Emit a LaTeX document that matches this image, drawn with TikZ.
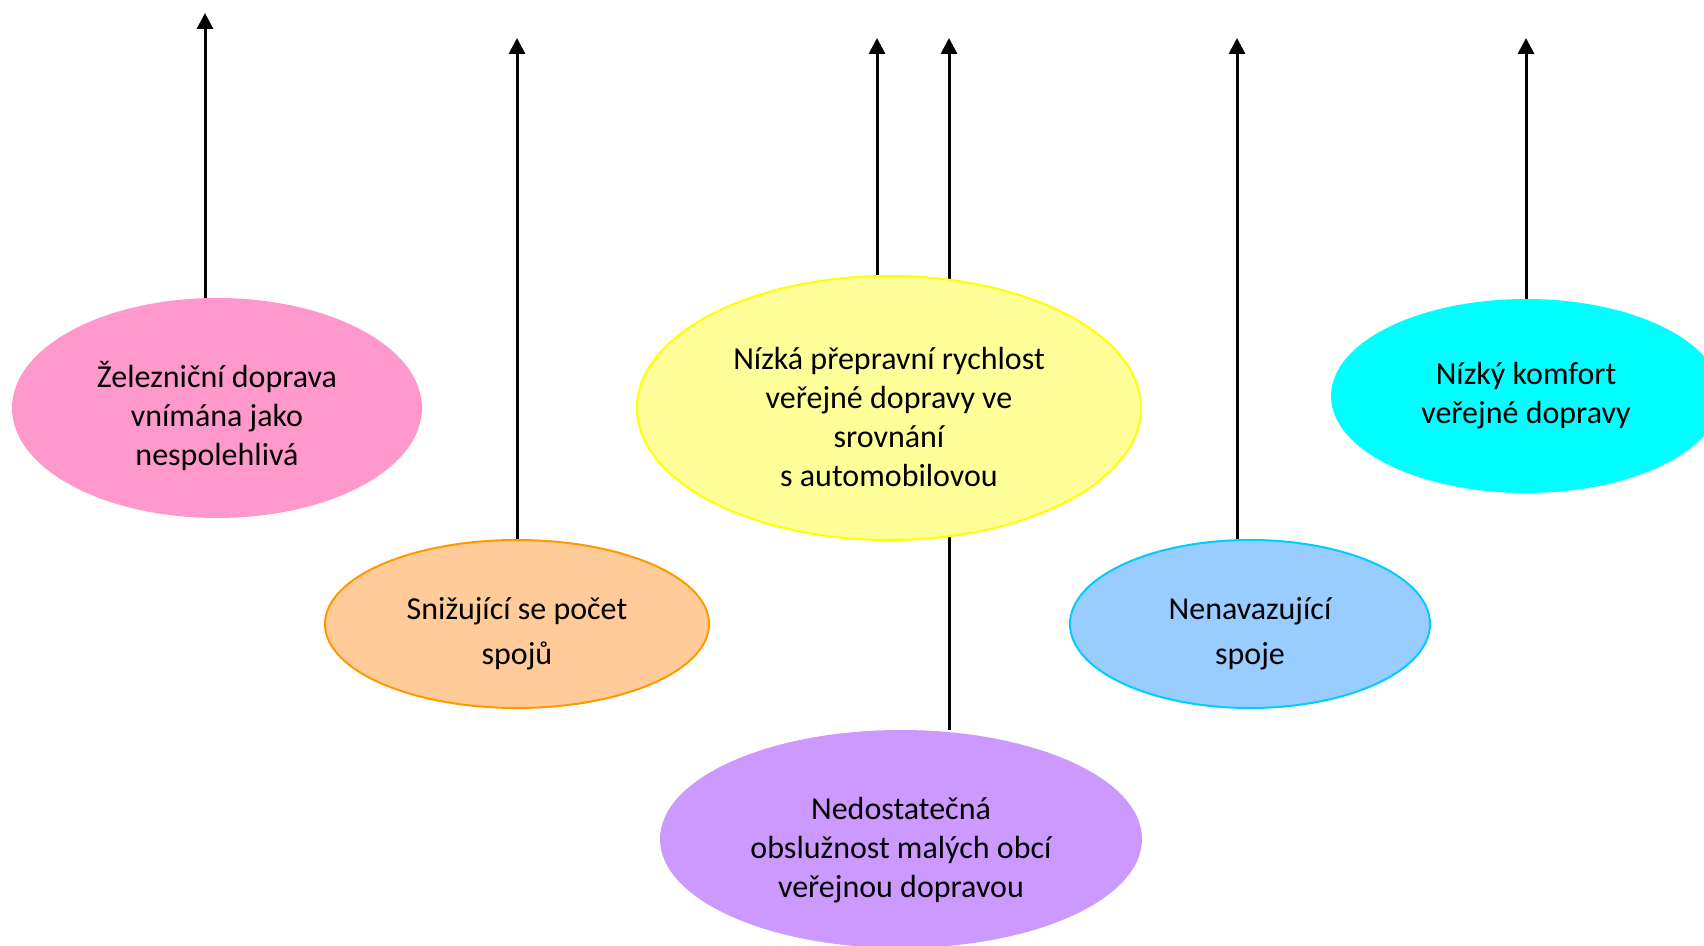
\documentclass[tikz,border=0pt]{standalone}
\usepackage{fontspec}
\setmainfont{Carlito}
\usepackage{tikz}
\usetikzlibrary{arrows.meta, positioning, shapes.geometric, backgrounds}

\definecolor{pinkfill}{HTML}{FF99CC}
\definecolor{orangefill}{HTML}{FFCC99}
\definecolor{orangeline}{HTML}{FF9900}
\definecolor{yellowfill}{HTML}{FFFF99}
\definecolor{yellowline}{HTML}{FFFF00}
\definecolor{purplefill}{HTML}{CC99FF}
\definecolor{bluefill}{HTML}{99CCFF}
\definecolor{blueline}{HTML}{00CCFF}
\definecolor{cyanfill}{HTML}{00FFFF}

\begin{document}
\begin{tikzpicture}[x=0.5pt, y=-0.5pt,
    bubble/.style={ellipse, inner sep=0pt, line width=1pt},
    txt/.style={align=center, inner sep=0pt, font=\fontsize{16}{19.5}\selectfont},
    widetxt/.style={txt, font=\fontsize{16}{22.8}\selectfont},
    arr/.style={-{Triangle[width=8pt, length=8pt]}, line width=1.5pt}]
  \useasboundingbox (0,0) rectangle (1704,946);
  \clip (0,0) rectangle (1704,946);

  % problem bubbles
  \node[bubble, fill=pinkfill, draw=pinkfill, minimum width=204pt, minimum height=109pt,
    label={[txt, yshift=-3.8pt]center:{Železniční doprava\\vnímána jako\\nespolehlivá}}]
    (rail) at (217,408) {};
  \node[bubble, fill=orangefill, draw=orangeline, minimum width=192pt, minimum height=84pt,
    label={[widetxt, yshift=-4.9pt]center:{Snižující se počet\\spojů}}]
    (links) at (517,624) {};
  \node[bubble, fill=yellowfill, draw=yellowline, minimum width=252pt, minimum height=132pt,
    label={[txt, yshift=-4.3pt]center:{Nízká přepravní rychlost\\veřejné dopravy ve\\srovnání\\s automobilovou}}]
    (speed) at (889,408) {};
  \node[bubble, fill=purplefill, draw=purplefill, minimum width=240pt, minimum height=108pt,
    label={[txt, yshift=-5.4pt]center:{Nedostatečná\\obslužnost malých obcí\\veřejnou dopravou}}]
    (villages) at (901,839) {};
  \node[bubble, fill=bluefill, draw=blueline, minimum width=180pt, minimum height=84pt,
    label={[widetxt, yshift=-4.9pt]center:{Nenavazující\\spoje}}]
    (transfer) at (1250,624) {};
  \node[bubble, fill=cyanfill, draw=cyanfill, minimum width=194pt, minimum height=96pt,
    label={[txt]center:{Nízký komfort\\veřejné dopravy}}]
    (comfort) at (1526,396) {};

  % arrow tips
  \coordinate (tRail) at (205,13);
  \coordinate (tLinks) at (517,38);
  \coordinate (tSpeed) at (877,38);
  \coordinate (tVillages) at (949,38);
  \coordinate (tTransfer) at (1237,38);
  \coordinate (tComfort) at (1526,38);

  % arrows behind the bubbles
  \begin{scope}[on background layer]
    \draw[arr] (tRail |- rail.north) -- (tRail);
    \draw[arr] (links.north) -- (tLinks);
    \draw[arr] (tSpeed |- speed.north) -- (tSpeed);
    \draw[arr] (tVillages |- villages.north) -- (tVillages);
    \draw[arr] (tTransfer |- transfer.north) -- (tTransfer);
    \draw[arr] (comfort.north) -- (tComfort);
  \end{scope}
\end{tikzpicture}
\end{document}
